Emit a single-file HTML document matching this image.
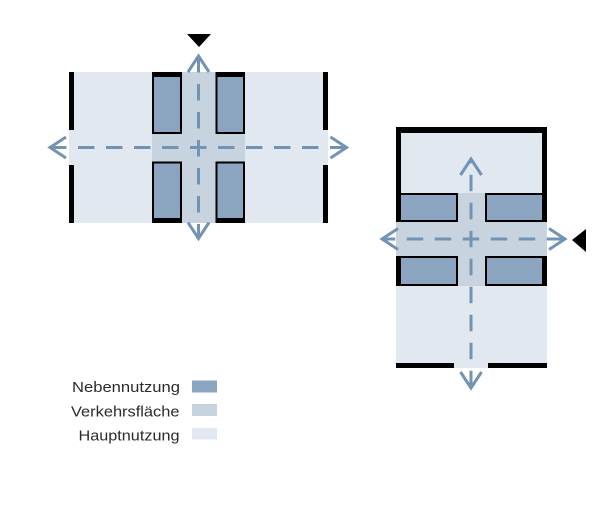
<!DOCTYPE html>
<html>
<head>
<meta charset="utf-8">
<style>
  html,body{margin:0;padding:0;background:#ffffff;}
  body{width:600px;height:510px;overflow:hidden;}
  svg{display:block;}
  text{font-family:"Liberation Sans", "DejaVu Sans", sans-serif;}
</style>
</head>
<body>
<svg width="600" height="510" viewBox="0 0 600 510" xmlns="http://www.w3.org/2000/svg">
  <rect x="0" y="0" width="600" height="510" fill="#ffffff"/>

  <!-- ================= LEFT DIAGRAM ================= -->
  <!-- Hauptnutzung fill -->
  <rect x="74" y="72" width="249" height="151" fill="#e1e8ef"/>
  <rect x="69" y="130" width="259" height="35" fill="#e1e8ef"/>
  <!-- Verkehrsfläche -->
  <rect x="181.5" y="72" width="34" height="151" fill="#c7d4e0"/>
  <rect x="152" y="133" width="93" height="29" fill="#c7d4e0"/>
  <!-- Nebennutzung boxes -->
  <rect x="153" y="73" width="28" height="60" fill="#8ba5c0" stroke="#000" stroke-width="2"/>
  <rect x="216.5" y="73" width="27.5" height="60" fill="#8ba5c0" stroke="#000" stroke-width="2"/>
  <rect x="153" y="162.5" width="28" height="59.5" fill="#8ba5c0" stroke="#000" stroke-width="2"/>
  <rect x="216.5" y="162.5" width="27.5" height="59.5" fill="#8ba5c0" stroke="#000" stroke-width="2"/>
  <!-- thick wall bars on boxes -->
  <rect x="152" y="72" width="30" height="5" fill="#000"/>
  <rect x="215.5" y="72" width="29.5" height="5" fill="#000"/>
  <rect x="152" y="218" width="30" height="5" fill="#000"/>
  <rect x="215.5" y="218" width="29.5" height="5" fill="#000"/>
  <!-- side walls -->
  <rect x="69" y="72" width="5" height="58" fill="#000"/>
  <rect x="69" y="165" width="5" height="58" fill="#000"/>
  <rect x="323" y="72" width="5" height="58" fill="#000"/>
  <rect x="323" y="165" width="5" height="58" fill="#000"/>

  <!-- arrows left -->
  <g stroke="#7393b4" stroke-width="3" fill="none">
    <line x1="50" y1="147.5" x2="346.5" y2="147.5" stroke-dasharray="16.5 11.5"/>
    <line x1="198.5" y1="56" x2="198.5" y2="238.5" stroke-dasharray="16.5 11.5"/>
    <polyline points="66,137 50,147.5 66,158"/>
    <polyline points="330.5,137 346.5,147.5 330.5,158"/>
    <polyline points="188,72 198.5,56 209,72"/>
    <polyline points="188,222.5 198.5,238.5 209,222.5"/>
  </g>
  <!-- entrance triangle -->
  <polygon points="187,34 211,34 199,47" fill="#000"/>

  <!-- ================= RIGHT DIAGRAM ================= -->
  <rect x="396" y="127" width="151" height="236" fill="#e1e8ef"/>
  <rect x="454" y="363" width="34" height="5" fill="#e1e8ef"/>
  <!-- Verkehrsfläche -->
  <rect x="396" y="222" width="151" height="34" fill="#c7d4e0"/>
  <rect x="457.5" y="193" width="27.5" height="93" fill="#c7d4e0"/>
  <!-- Nebennutzung boxes -->
  <rect x="397" y="194" width="60" height="27" fill="#8ba5c0" stroke="#000" stroke-width="2"/>
  <rect x="486" y="194" width="60" height="27" fill="#8ba5c0" stroke="#000" stroke-width="2"/>
  <rect x="397" y="257" width="60" height="28" fill="#8ba5c0" stroke="#000" stroke-width="2"/>
  <rect x="486" y="257" width="60" height="28" fill="#8ba5c0" stroke="#000" stroke-width="2"/>
  <!-- walls -->
  <rect x="396" y="127" width="151" height="6" fill="#000"/>
  <rect x="396" y="127" width="5" height="95" fill="#000"/>
  <rect x="542" y="127" width="5" height="95" fill="#000"/>
  <rect x="396" y="256" width="5" height="30" fill="#000"/>
  <rect x="542" y="256" width="5" height="30" fill="#000"/>
  <rect x="396" y="363" width="58" height="5" fill="#000"/>
  <rect x="488" y="363" width="59" height="5" fill="#000"/>

  <!-- arrows right -->
  <g stroke="#7393b4" stroke-width="3" fill="none">
    <line x1="382" y1="239" x2="565" y2="239" stroke-dasharray="16.5 11.5" stroke-dashoffset="3.25"/>
    <line x1="471" y1="159" x2="471" y2="388" stroke-dasharray="16.5 11.5" stroke-dashoffset="12.25"/>
    <polyline points="398,228.5 382,239 398,249.5"/>
    <polyline points="549,228.5 565,239 549,249.5"/>
    <polyline points="460.5,175 471,159 481.5,175"/>
    <polyline points="460.5,372 471,388 481.5,372"/>
  </g>
  <polygon points="572,240 586,229 586,252" fill="#000"/>

  <!-- ================= LEGEND ================= -->
  <g fill="#2b2b2b" font-size="15" text-anchor="end">
    <text x="180" y="392" textLength="108" lengthAdjust="spacingAndGlyphs">Nebennutzung</text>
    <text x="179.5" y="416.3" textLength="108.5" lengthAdjust="spacingAndGlyphs">Verkehrsfläche</text>
    <text x="179.5" y="440.5" textLength="101" lengthAdjust="spacingAndGlyphs">Hauptnutzung</text>
  </g>
  <rect x="192" y="380.5" width="25" height="12" fill="#8ba5c0"/>
  <rect x="192" y="404" width="25" height="12" fill="#c7d4e0"/>
  <rect x="192" y="428" width="25" height="11.5" fill="#e1e8ef"/>
</svg>
</body>
</html>
